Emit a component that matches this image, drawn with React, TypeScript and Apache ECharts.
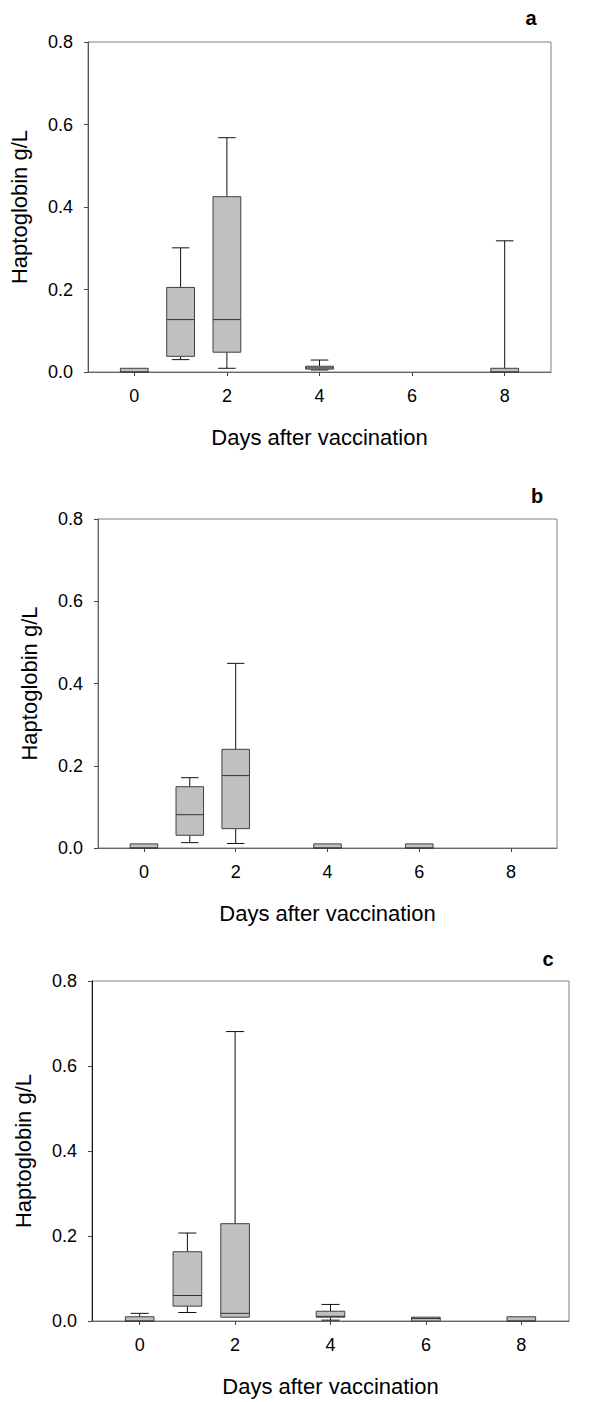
import React, { useEffect, useRef } from "react";
import * as echarts from "echarts";

const X_TICKS = [0, 2, 4, 6, 8];
const X_NAME = "Days after vaccination";
const Y_NAME = "Haptoglobin g/L";
const PANEL_LABELS = ["a", "b", "c"];

// Panel a
const daysA = [0, 1, 2, 4, 8];
const lowA = [0, 0.03, 0.009, 0.005, 0];
const q1A = [0, 0.038, 0.048, 0.007, 0];
const medA = [0, 0.127, 0.127, 0.01, 0];
const q3A = [0.009, 0.205, 0.425, 0.014, 0.009];
const highA = [0.009, 0.301, 0.568, 0.029, 0.318];

// Panel b
const daysB = [0, 1, 2, 4, 6];
const lowB = [0, 0.013, 0.011, 0, 0];
const q1B = [0, 0.031, 0.047, 0, 0];
const medB = [0, 0.081, 0.176, 0, 0];
const q3B = [0.01, 0.149, 0.24, 0.01, 0.01];
const highB = [0.01, 0.171, 0.449, 0.01, 0.01];

// Panel c
const daysC = [0, 1, 2, 4, 6, 8];
const lowC = [0, 0.02, 0.009, 0.002, 0, 0];
const q1C = [0, 0.035, 0.009, 0.009, 0, 0];
const medC = [0, 0.06, 0.018, 0.011, 0.006, 0];
const q3C = [0.01, 0.163, 0.229, 0.023, 0.009, 0.01];
const highC = [0.018, 0.207, 0.681, 0.039, 0.009, 0.01];

const BOX_W = 0.6;
const CAP_W = 0.38;

const panels = [
  { days: daysA, low: lowA, q1: q1A, med: medA, q3: q3A, high: highA },
  { days: daysB, low: lowB, q1: q1B, med: medB, q3: q3B, high: highB },
  { days: daysC, low: lowC, q1: q1C, med: medC, q3: q3C, high: highC },
];

const grids = [
  { left: 87, top: 42, width: 464, height: 330 },
  { left: 98, top: 519, width: 459, height: 329 },
  { left: 92, top: 981, width: 477, height: 340 },
];
const letterPos = [
  { x: 531, y: 18 },
  { x: 537, y: 496 },
  { x: 548, y: 959 },
];
const leftAxisColor = ["#555", "#666", "#111"];

const FONT = "'Liberation Sans', Arial, sans-serif";

function renderItem(params: any, api: any) {
  const x = api.value(0);
  const lo = api.value(1);
  const q1 = api.value(2);
  const md = api.value(3);
  const q3 = api.value(4);
  const hi = api.value(5);
  const pLo = api.coord([x, lo]);
  const pQ1 = api.coord([x, q1]);
  const pMd = api.coord([x, md]);
  const pQ3 = api.coord([x, q3]);
  const pHi = api.coord([x, hi]);
  const boxW = api.size([BOX_W, 0])[0];
  const capW = api.size([CAP_W, 0])[0];
  const cx = pMd[0];
  const lineStyle = { stroke: "#111", lineWidth: 1, fill: null };
  const children: any[] = [];
  if (hi > q3) {
    children.push({ type: "line", shape: { x1: cx, y1: pQ3[1], x2: cx, y2: pHi[1] }, style: lineStyle });
    children.push({ type: "line", shape: { x1: cx - capW / 2, y1: pHi[1], x2: cx + capW / 2, y2: pHi[1] }, style: lineStyle });
  }
  if (lo < q1) {
    children.push({ type: "line", shape: { x1: cx, y1: pQ1[1], x2: cx, y2: pLo[1] }, style: lineStyle });
    children.push({ type: "line", shape: { x1: cx - capW / 2, y1: pLo[1], x2: cx + capW / 2, y2: pLo[1] }, style: lineStyle });
  }
  children.push({
    type: "rect",
    shape: { x: cx - boxW / 2, y: pQ3[1], width: boxW, height: pQ1[1] - pQ3[1] },
    style: { fill: "#c0c0c0", stroke: "#404040", lineWidth: 1 },
  });
  children.push({
    type: "line",
    shape: { x1: cx - boxW / 2, y1: pMd[1], x2: cx + boxW / 2, y2: pMd[1] },
    style: { stroke: "#333", lineWidth: 1 },
  });
  return { type: "group", children };
}

export default function App() {
  const ref = useRef<HTMLDivElement>(null);
  useEffect(() => {
    if (!ref.current) return;
    const chart = echarts.init(ref.current, null, { renderer: "svg" });
    const option: any = {
      animation: false,
      backgroundColor: "#fff",
      textStyle: { fontFamily: FONT },
      grid: grids.map((g) => ({
        ...g,
        show: true,
        borderColor: "#808080",
        borderWidth: 1,
        backgroundColor: "transparent",
        containLabel: false,
      })),
      xAxis: grids.map((_, i) => ({
        type: "value",
        gridIndex: i,
        min: -1,
        max: 9,
        name: X_NAME,
        nameLocation: "middle",
        nameGap: 54,
        nameTextStyle: { fontSize: 22, color: "#000", fontFamily: FONT },
        axisLine: { show: true, onZero: false, lineStyle: { color: "#666", width: 1 } },
        axisTick: { show: true, inside: false, length: 4, customValues: X_TICKS, lineStyle: { color: "#444" } },
        axisLabel: { show: true, customValues: X_TICKS, fontSize: 18, color: "#000", margin: 15, fontFamily: FONT },
        splitLine: { show: false },
      })),
      yAxis: grids.map((_, i) => ({
        type: "value",
        gridIndex: i,
        min: 0,
        max: 0.8,
        interval: 0.2,
        name: Y_NAME,
        nameLocation: "middle",
        nameGap: 58,
        nameRotate: 90,
        nameTextStyle: { fontSize: 22, color: "#000", fontFamily: FONT },
        axisLine: { show: true, onZero: false, lineStyle: { color: leftAxisColor[i], width: 1 } },
        axisTick: { show: true, inside: false, length: 4, lineStyle: { color: "#444" } },
        axisLabel: {
          fontSize: 18,
          color: "#000",
          margin: 15,
          fontFamily: FONT,
          formatter: (v: number) => v.toFixed(1),
        },
        splitLine: { show: false },
      })),
      graphic: letterPos.map((p, i) => ({
        type: "text",
        x: p.x,
        y: p.y,
        style: {
          text: PANEL_LABELS[i],
          font: `bold 20px ${FONT}`,
          fill: "#000",
          align: "center",
          verticalAlign: "middle",
        },
      })),
      series: panels.map((p, i) => ({
        type: "custom",
        xAxisIndex: i,
        yAxisIndex: i,
        renderItem,
        encode: { x: 0, y: [1, 2, 3, 4, 5] },
        data: p.days.map((d, k) => [d, p.low[k], p.q1[k], p.med[k], p.q3[k], p.high[k]]),
        z: 3,
      })),
    };
    chart.setOption(option);
    return () => chart.dispose();
  }, []);
  return (
    <div
      ref={ref}
      style={{ position: "absolute", left: 0, top: 0, width: 600, height: 1402 }}
    />
  );
}
